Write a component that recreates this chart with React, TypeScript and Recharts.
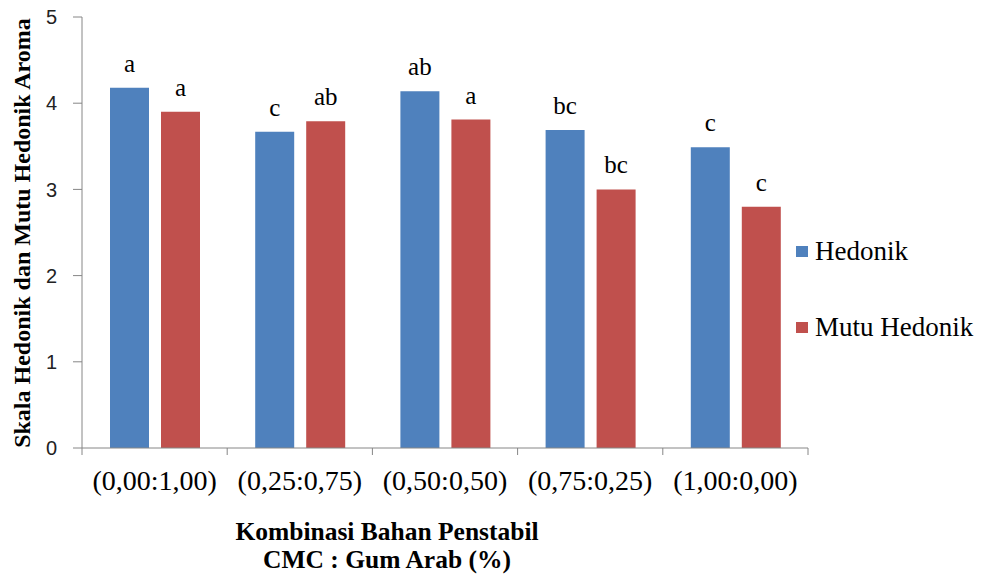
import React from 'react';
import { BarChart, Bar, XAxis, YAxis, LabelList } from 'recharts';

// Kombinasi CMC : Gum Arab
const categories = ['(0,00:1,00)', '(0,25:0,75)', '(0,50:0,50)', '(0,75:0,25)', '(1,00:0,00)'];
const hedonik = [4.18, 3.67, 4.14, 3.69, 3.49];
const mutuHedonik = [3.9, 3.79, 3.81, 3.0, 2.8];
// notasi uji lanjut di atas batang
const hedonikNotasi = ['a', 'c', 'ab', 'bc', 'c'];
const mutuNotasi = ['a', 'ab', 'a', 'bc', 'c'];
const yTicks = [0, 1, 2, 3, 4, 5];

const data = categories.map((name, i) => ({
  name,
  hedonik: hedonik[i],
  mutu: mutuHedonik[i],
  hNote: hedonikNotasi[i],
  mNote: mutuNotasi[i],
}));

const SERIF = '"Liberation Serif", "Times New Roman", serif';
const SANS = '"Liberation Sans", Arial, sans-serif';
const BLUE = '#4F81BD';
const RED = '#C0504D';
const AXIS = '#868686';

const legendItems = [
  { label: 'Hedonik', color: BLUE },
  { label: 'Mutu Hedonik', color: RED },
];

// label kategori + garis tick di batas kategori (gaya Excel)
const CategoryTick = (props: any) => {
  const { x, y, payload, index, visibleTicksCount } = props;
  const half = payload?.offset ?? 0;
  const isLast = index === visibleTicksCount - 1;
  return (
    <g>
      <line x1={x - half} x2={x - half} y1={y} y2={y + 7} stroke={AXIS} />
      {isLast && <line x1={x + half} x2={x + half} y1={y} y2={y + 7} stroke={AXIS} />}
      <text x={x} y={y + 22} dy="0.71em" textAnchor="middle" fontFamily={SERIF} fontSize={28} fill="#000">
        {payload.value}
      </text>
    </g>
  );
};

export default function App() {
  return (
    <div style={{ position: 'absolute', left: 0, top: 0, width: 984, height: 576, background: '#fff' }}>
      <BarChart
        width={984}
        height={576}
        data={data}
        margin={{ top: 17, right: 176, bottom: 88, left: 0 }}
        barCategoryGap={28}
        barGap={12}
      >
        <XAxis
          dataKey="name"
          axisLine={{ stroke: AXIS }}
          tickLine={false}
          tickSize={0}
          tickMargin={0}
          height={40}
          interval={0}
          tick={<CategoryTick />}
        />
        <YAxis
          domain={[0, 5]}
          ticks={yTicks}
          width={82}
          axisLine={{ stroke: AXIS }}
          tickLine={{ stroke: AXIS }}
          tickSize={9}
          tickMargin={16}
          tick={{ fontFamily: SANS, fontSize: 20, fill: '#222' }}
        />
        <Bar dataKey="hedonik" name="Hedonik" fill={BLUE} isAnimationActive={false}>
          <LabelList dataKey="hNote" position="top" offset={16} fill="#000" fontFamily={SERIF} fontSize={25} />
        </Bar>
        <Bar dataKey="mutu" name="Mutu Hedonik" fill={RED} isAnimationActive={false}>
          <LabelList dataKey="mNote" position="top" offset={16} fill="#000" fontFamily={SERIF} fontSize={25} />
        </Bar>
      </BarChart>

      <div style={{ position: 'absolute', left: 796, top: 236, fontFamily: SERIF, fontSize: 27, color: '#000' }}>
        {legendItems.map((item, i) => (
          <div key={item.label} style={{ display: 'flex', alignItems: 'center', height: 30, marginBottom: i === 0 ? 46 : 0 }}>
            <span style={{ display: 'inline-block', width: 12, height: 11, background: item.color, marginRight: 7 }} />
            <span style={{ whiteSpace: 'nowrap' }}>{item.label}</span>
          </div>
        ))}
      </div>

      <div
        style={{
          position: 'absolute',
          left: 22,
          top: 233,
          transform: 'translate(-50%, -50%) rotate(-90deg)',
          whiteSpace: 'nowrap',
          fontFamily: SERIF,
          fontWeight: 'bold',
          fontSize: 24,
          color: '#000',
        }}
      >
        Skala Hedonik dan Mutu Hedonik Aroma
      </div>
      <div
        style={{
          position: 'absolute',
          left: 387,
          top: 518,
          transform: 'translateX(-50%)',
          textAlign: 'center',
          whiteSpace: 'nowrap',
          fontFamily: SERIF,
          fontWeight: 'bold',
          fontSize: 25.5,
          lineHeight: '28px',
          color: '#000',
        }}
      >
        Kombinasi Bahan Penstabil
        <br />
        CMC : Gum Arab (%)
      </div>
    </div>
  );
}
